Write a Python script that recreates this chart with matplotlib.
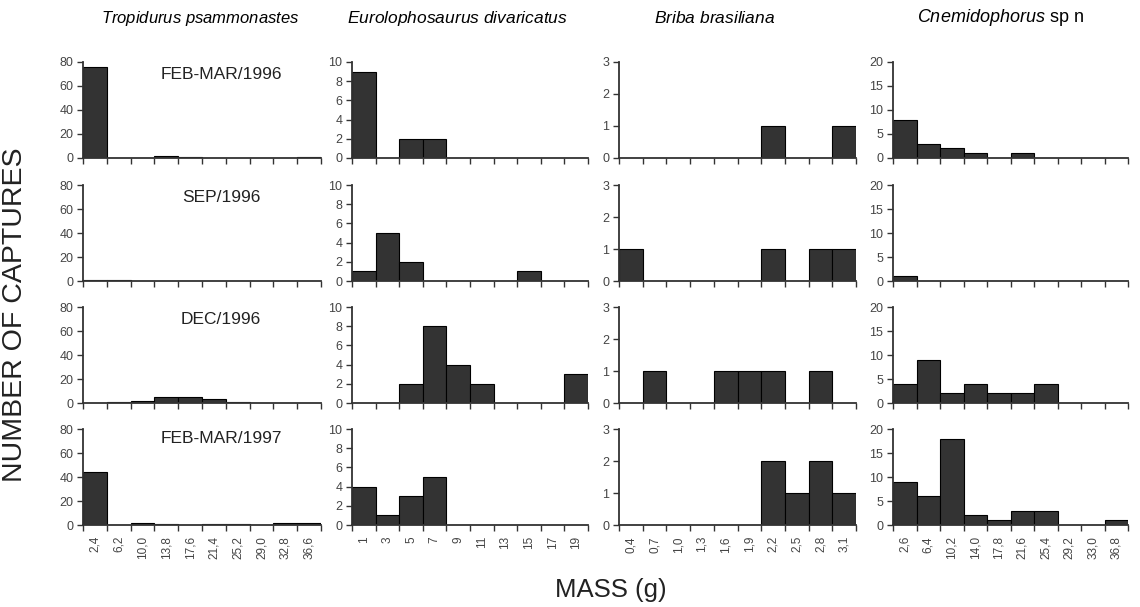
import matplotlib
matplotlib.use("Agg")
import matplotlib.pyplot as plt
import numpy as np

plt.rcParams['font.family'] = ['Liberation Sans', 'DejaVu Sans']
plt.rcParams['mathtext.fontset'] = 'custom'
plt.rcParams['mathtext.rm'] = 'Liberation Sans'
plt.rcParams['mathtext.it'] = 'Liberation Sans:italic'

species_titles = [r"$\it{Tropidurus\ psammonastes}$",
                  r"$\it{Eurolophosaurus\ divaricatus}$",
                  r"$\it{Briba\ brasiliana}$",
                  r"$\it{Cnemidophorus}$ sp n"]
periods = ["FEB-MAR/1996", "SEP/1996", "DEC/1996", "FEB-MAR/1997"]

trop_labels = ["2,4", "6,2", "10,0", "13,8", "17,6", "21,4", "25,2", "29,0", "32,8", "36,6"]
euro_labels = ["1", "3", "5", "7", "9", "11", "13", "15", "17", "19"]
briba_labels = ["0,4", "0,7", "1,0", "1,3", "1,6", "1,9", "2,2", "2,5", "2,8", "3,1"]
cnem_labels = ["2,6", "6,4", "10,2", "14,0", "17,8", "21,6", "25,4", "29,2", "33,0", "36,8"]

trop_feb96 = [76, 0, 0, 2, 1, 0, 0, 0, 0, 1]
trop_sep96 = [1, 1, 0, 0, 0, 0, 0, 0, 0, 0]
trop_dec96 = [0, 1, 2, 5, 5, 3, 1, 0, 0, 0]
trop_feb97 = [44, 0, 2, 1, 0, 1, 1, 0, 2, 2]

euro_feb96 = [9, 0, 2, 2, 0, 0, 0, 0, 0, 0]
euro_sep96 = [1, 5, 2, 0, 0, 0, 0, 1, 0, 0]
euro_dec96 = [0, 0, 2, 8, 4, 2, 0, 0, 0, 3]
euro_feb97 = [4, 1, 3, 5, 0, 0, 0, 0, 0, 0]

briba_feb96 = [0, 0, 0, 0, 0, 0, 1, 0, 0, 1]
briba_sep96 = [1, 0, 0, 0, 0, 0, 1, 0, 1, 1]
briba_dec96 = [0, 1, 0, 0, 1, 1, 1, 0, 1, 0]
briba_feb97 = [0, 0, 0, 0, 0, 0, 2, 1, 2, 1]

cnem_feb96 = [8, 3, 2, 1, 0, 1, 0, 0, 0, 0]
cnem_sep96 = [1, 0, 0, 0, 0, 0, 0, 0, 0, 0]
cnem_dec96 = [4, 9, 2, 4, 2, 2, 4, 0, 0, 0]
cnem_feb97 = [9, 6, 18, 2, 1, 3, 3, 0, 0, 1]

columns = [
    (trop_labels, [trop_feb96, trop_sep96, trop_dec96, trop_feb97], [0, 20, 40, 60, 80]),
    (euro_labels, [euro_feb96, euro_sep96, euro_dec96, euro_feb97], [0, 2, 4, 6, 8, 10]),
    (briba_labels, [briba_feb96, briba_sep96, briba_dec96, briba_feb97], [0, 1, 2, 3]),
    (cnem_labels, [cnem_feb96, cnem_sep96, cnem_dec96, cnem_feb97], [0, 5, 10, 15, 20]),
]

W, H = 1140, 607
fig = plt.figure(figsize=(W / 100, H / 100), dpi=100)

col_left = [83, 352, 619, 893]
col_width = [238, 236, 237, 235]
row_zero = [158, 281, 403, 525]
row_h = 96
title_x = [200, 457, 715, 1000]
title_size = [12, 12.5, 12.5, 13]

spine_col = '#333333'
bar_col = '#333333'

for c, (labels, series, yticks) in enumerate(columns):
    fig.text(title_x[c] / W, 1 - 18 / H, species_titles[c], ha='center', va='center',
             fontsize=title_size[c])
    for r in range(4):
        ax = fig.add_axes([col_left[c] / W, (H - row_zero[r]) / H, col_width[c] / W, row_h / H])
        vals = series[r]
        x = np.arange(len(vals))
        ax.bar(x + 0.5, vals, width=1.0, color=bar_col, edgecolor='black', linewidth=0.8, zorder=2)
        ax.set_xlim(0, len(vals))
        ax.set_ylim(yticks[0], yticks[-1])
        ax.set_yticks(yticks)
        ax.tick_params(axis='y', direction='out', length=4, width=1, colors=spine_col,
                       labelsize=9, labelcolor='#444444', pad=3)
        ax.set_xticks(np.arange(len(vals) + 1))
        ax.set_xticklabels([])
        ax.tick_params(axis='x', which='major', direction='out', length=4, width=1, colors=spine_col)
        ax.set_xticks(x + 0.5, minor=True)
        if r == 3:
            ax.set_xticklabels(labels, minor=True, rotation=90, fontsize=8.5, color='#444444')
        else:
            ax.set_xticklabels([], minor=True)
        ax.tick_params(axis='x', which='minor', length=0, pad=8)
        for s in ['top', 'right']:
            ax.spines[s].set_visible(False)
        for s in ['left', 'bottom']:
            ax.spines[s].set_color(spine_col)
            ax.spines[s].set_linewidth(1.3)
        ax.patch.set_alpha(0)
        if c == 0:
            ax.text(0.58, 0.87 if r != 3 else 0.90, periods[r], transform=ax.transAxes,
                    ha='center', va='center', fontsize=12.5, color='#222222')

fig.text(15 / W, 1 - 315 / H, "NUMBER OF CAPTURES", rotation=90, ha='center', va='center',
         fontsize=20.5, color='#222222')
fig.text(611 / W, 1 - 590 / H, "MASS (g)", ha='center', va='center', fontsize=18.5, color='#222222')

fig.savefig("out.png", dpi=100, facecolor='white')
